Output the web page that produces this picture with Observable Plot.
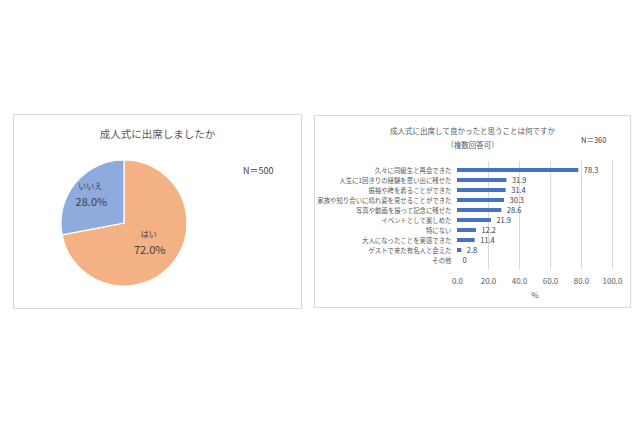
<!DOCTYPE html>
<html>
<head>
<meta charset="utf-8">
<script src="https://cdn.jsdelivr.net/npm/d3@7"></script>
<script src="https://cdn.jsdelivr.net/npm/@observablehq/plot@0.6"></script>
<style>
  html, body { margin: 0; padding: 0; background: #fff; }
  body { width: 640px; height: 426px; position: relative; overflow: hidden; font-family: "Noto Sans CJK JP", "Noto Sans", sans-serif; color: #595959; }
  .panel { position: absolute; border: 1px solid #d9d9d9; box-sizing: border-box; background: #fff; }
  .abs { position: absolute; white-space: nowrap; }
  .panel svg { position: absolute; left: 0; }
</style>
</head>
<body>
<div id="left" class="panel" style="left:13px; top:114px; width:289px; height:195px;">
  <div class="abs" style="left:0; width:287px; top:11px; text-align:center; font-size:10.5px; color:#595959;">成人式に出席しましたか</div>
  <div class="abs" style="left:229px; top:49px; font-size:9px; color:#404040;">N＝500</div>
</div>
<div id="right" class="panel" style="left:314px; top:115px; width:317px; height:193px;">
  <div class="abs" style="left:0; width:315px; top:9px; text-align:center; font-size:7.5px; color:#595959;">成人式に出席して良かったと思うことは何ですか</div>
  <div class="abs" style="left:0; width:315px; top:23px; text-align:center; font-size:7.5px; color:#595959;">（複数回答可）</div>
  <div class="abs" style="left:266px; top:18px; font-size:7.5px; color:#404040;">N＝360</div>
</div>
<script>
// ---- Data ----
const pieLabels = ["はい", "いいえ"];
const pieValues = [72.0, 28.0];
const pieColors = ["#F4B183", "#8FAADC"];

const categories = [
  "久々に同級生と再会できた",
  "人生に1回きりの経験を思い出に残せた",
  "振袖や袴を着ることができた",
  "家族や知り合いに晴れ姿を見せることができた",
  "写真や動画を撮って記念に残せた",
  "イベントとして楽しめた",
  "特にない",
  "大人になったことを実感できた",
  "ゲストで来た有名人と会えた",
  "その他"
];
const values = [78.3, 31.9, 31.4, 30.3, 28.6, 21.9, 12.2, 11.4, 2.8, 0];
const xTicks = [0, 20, 40, 60, 80, 100];

// ---- Pie chart ----
const R = 63;
const arcs = d3.pie().sort(null).value(d => d)(pieValues);
const pieData = arcs.map((a, i) => {
  const mid = (a.startAngle + a.endAngle) / 2;
  const rr = R * 0.6;
  return {
    label: pieLabels[i],
    pct: pieValues[i].toFixed(1) + "%",
    x: Math.sin(mid) * rr,
    y: Math.cos(mid) * rr
  };
});

function pieMark(index, scales) {
  const cx = scales.x(0), cy = scales.y(0);
  const k = Math.abs(scales.x(1) - scales.x(0));
  const arc = d3.arc().innerRadius(0).outerRadius(R * k);
  const g = d3.create("svg:g").attr("transform", `translate(${cx},${cy})`);
  g.selectAll("path").data(arcs).join("path")
    .attr("d", arc)
    .attr("fill", (d, i) => pieColors[i])
    .attr("stroke", "#fff")
    .attr("stroke-width", 1.2);
  return g.node();
}

const pie = Plot.plot({
  width: 287, height: 193,
  margin: 0,
  x: {domain: [-110, 177], range: [0, 287], axis: null},
  y: {domain: [-85, 108], range: [193, 0], axis: null},
  style: {fontFamily: '"Noto Sans CJK JP", "Noto Sans", sans-serif', background: "transparent"},
  marks: [
    pieMark,
    Plot.text(pieData, {x: "x", y: "y", text: "label", dx: -5, dy: -13, fontSize: 8, fill: "#404040"}),
    Plot.text(pieData, {x: "x", y: "y", text: "pct", dx: -4, dy: 3, fontSize: 11, fill: "#404040"})
  ]
});
pie.style.top = "0px";
document.getElementById("left").appendChild(pie);

// ---- Bar chart ----
const rows = categories.map((c, i) => ({category: c, value: values[i], text: values[i] === 0 ? "0" : values[i].toFixed(1)}));

const bars = Plot.plot({
  width: 315, height: 145,
  marginLeft: 142, marginRight: 18, marginTop: 5, marginBottom: 31.5,
  style: {fontFamily: '"Noto Sans CJK JP", "Noto Sans", sans-serif', background: "transparent", color: "#595959"},
  x: {domain: [0, 100]},
  y: {domain: categories, paddingInner: 0.6, paddingOuter: 0.3},
  marks: [
    Plot.gridX(xTicks.filter(t => t > 0), {stroke: "#d9d9d9", strokeOpacity: 1}),
    Plot.barX(rows, {x: "value", y: "category", fill: "#4472C4"}),
    Plot.text(rows, {x: "value", y: "category", text: "text", dx: 5, textAnchor: "start", fontSize: 7.5, fill: "#404040"}),
    Plot.axisY({tickSize: 0, tickPadding: 6, fontSize: 6.4, label: null, fill: "#595959"}),
    Plot.axisX({ticks: xTicks, tickSize: 0, tickPadding: 8, fontSize: 8, tickFormat: d => d.toFixed(1), label: "%", labelAnchor: "center", labelArrow: "none", labelOffset: 28, fill: "#595959"})
  ]
});
bars.style.top = "40px";
document.getElementById("right").appendChild(bars);
</script>
</body>
</html>
